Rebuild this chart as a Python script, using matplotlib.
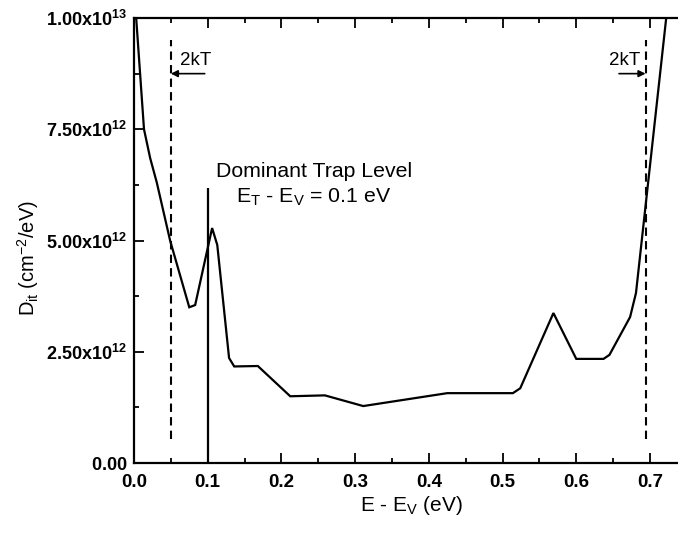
import matplotlib
matplotlib.use("Agg")
import matplotlib.pyplot as plt
from matplotlib.ticker import MultipleLocator, FixedLocator

plt.rcParams['font.family'] = ['Liberation Sans', 'DejaVu Sans']
plt.rcParams['mathtext.fontset'] = 'custom'
plt.rcParams['mathtext.rm'] = 'Liberation Sans'
plt.rcParams['mathtext.it'] = 'Liberation Sans'
plt.rcParams['mathtext.bf'] = 'Liberation Sans:bold'

# Interface trap density vs energy above the valence band edge
energy = [0.003, 0.0136, 0.022, 0.031, 0.049, 0.075, 0.083, 0.106, 0.113, 0.129, 0.136,
          0.168, 0.212, 0.259, 0.311, 0.425, 0.514, 0.524, 0.569, 0.600, 0.637,
          0.645, 0.673, 0.681, 0.722]
dit = [10.0e12, 7.5e12, 6.85e12, 6.3e12, 5.0e12, 3.5e12, 3.55e12, 5.28e12, 4.9e12, 2.36e12, 2.17e12,
       2.18e12, 1.5e12, 1.52e12, 1.28e12, 1.57e12, 1.57e12, 1.68e12, 3.37e12, 2.34e12, 2.34e12,
       2.43e12, 3.28e12, 3.82e12, 10.0e12]

# 2kT boundaries and the dominant trap level
kt_left = 0.05
kt_right = 0.694
trap_level = 0.1
kt_line_range = [0.55e12, 9.5e12]
trap_line_top = 6.18e12

xticks = [0.0, 0.1, 0.2, 0.3, 0.4, 0.5, 0.6, 0.7]
xtick_labels = ['0.0', '0.1', '0.2', '0.3', '0.4', '0.5', '0.6', '0.7']
yticks = [0.0, 2.5e12, 5.0e12, 7.5e12, 1.0e13]
ytick_labels = [r'$\mathbf{0.00}$', r'$\mathbf{2.50x10^{12}}$', r'$\mathbf{5.00x10^{12}}$',
                r'$\mathbf{7.50x10^{12}}$', r'$\mathbf{1.00x10^{13}}$']

fig = plt.figure(figsize=(6.78, 5.33), dpi=100)
ax = fig.add_axes([0.1976, 0.1313, 0.8024, 0.8349])

ax.plot(energy, dit, color='black', lw=1.6, solid_joinstyle='miter')
ax.vlines([kt_left, kt_right], kt_line_range[0], kt_line_range[1],
          colors='black', linestyles=(0, (4, 2.5)), lw=1.5)
ax.vlines(trap_level, 0, trap_line_top, colors='black', lw=1.6)

ax.set_xlim(0, 0.738)
ax.set_ylim(0, 1.0e13)

ax.xaxis.set_major_locator(FixedLocator(xticks))
ax.set_xticklabels(xtick_labels, fontweight='bold', fontsize=13.5)
ax.xaxis.set_minor_locator(MultipleLocator(0.05))
ax.yaxis.set_major_locator(FixedLocator(yticks))
ax.set_yticklabels(ytick_labels, fontsize=13)
ax.yaxis.set_minor_locator(MultipleLocator(1.25e12))

ax.tick_params(which='both', direction='in', top=True, right=False, width=1.3)
ax.tick_params(which='major', length=7)
ax.tick_params(which='minor', length=3.5)
ax.tick_params(axis='x', pad=8)
ax.tick_params(axis='y', pad=5)

for side in ['left', 'bottom', 'top']:
    ax.spines[side].set_linewidth(1.6)
ax.spines['right'].set_visible(False)

ax.set_xlabel(r'E - E$_\mathrm{V}$ (eV)', fontsize=15)
ax.xaxis.set_label_coords(0.51, -0.07)
ax.set_ylabel(r'D$_\mathrm{it}$ (cm$^\mathrm{-2}$/eV)', fontsize=14.5)
ax.yaxis.set_label_coords(-0.17, 0.46)

ax.text(0.244, 6.54e12, 'Dominant Trap Level', ha='center', va='center', fontsize=15.3)
ax.text(0.244, 5.96e12, r'E$_\mathrm{T}$ - E$_\mathrm{V}$ = 0.1 eV', ha='center', va='center',
        fontsize=15.3)

ax.text(0.0625, 9.05e12, '2kT', ha='left', va='center', fontsize=13.5)
ax.annotate('', xy=(kt_left, 8.75e12), xytext=(0.096, 8.75e12),
            arrowprops=dict(arrowstyle='-|>', color='black', lw=1.2, mutation_scale=10,
                            shrinkA=0, shrinkB=0))
ax.text(0.687, 9.05e12, '2kT', ha='right', va='center', fontsize=13.5)
ax.annotate('', xy=(kt_right, 8.75e12), xytext=(0.658, 8.75e12),
            arrowprops=dict(arrowstyle='-|>', color='black', lw=1.2, mutation_scale=10,
                            shrinkA=0, shrinkB=0))

fig.savefig('out.png', dpi=100)
